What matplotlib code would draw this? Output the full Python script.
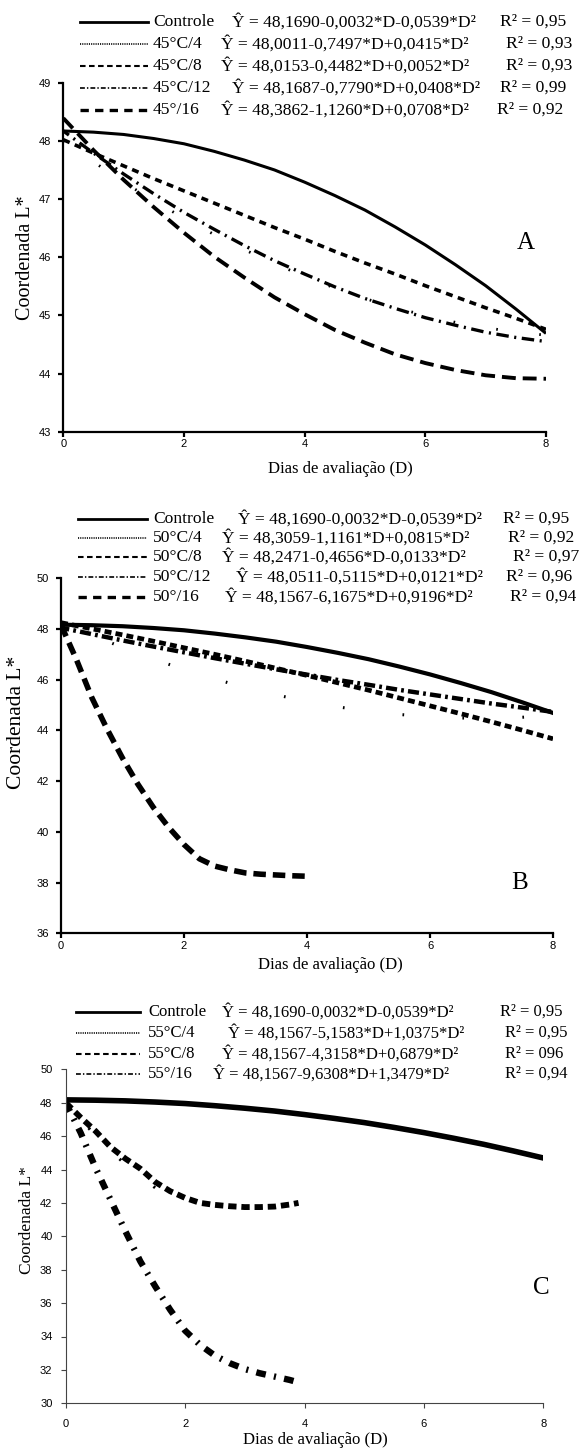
import matplotlib
matplotlib.use("Agg")
import matplotlib.pyplot as plt
from matplotlib.lines import Line2D

plt.rcParams['lines.scale_dashes'] = False

W, H = 581, 1449
DPI = 100

# ---------------- data ----------------
D_full = [0, 0.5, 1, 1.5, 2, 2.5, 3, 3.5, 4, 4.5, 5, 5.5, 6, 6.5, 7, 7.5, 8]
D_B16 = [0, 0.25, 0.5, 0.75, 1, 1.25, 1.5, 1.75, 2, 2.25, 2.5, 2.75, 3, 3.25, 3.5, 3.75, 4]
D_C = [0, 0.25, 0.5, 0.75, 1, 1.25, 1.5, 1.75, 2, 2.25, 2.5, 2.75, 3, 3.25, 3.5, 3.75, 3.9]
D_C4 = [0, 0.5, 1, 1.5, 2]

controle = [48.17, 48.15, 48.11, 48.04, 47.95, 47.82, 47.67, 47.50, 47.29,
            47.06, 46.81, 46.52, 46.21, 45.87, 45.51, 45.11, 44.69]

a_45_4 = [48.00, 47.64, 47.29, 46.97, 46.67, 46.39, 46.13, 45.89, 45.67,
          45.47, 45.29, 45.13, 45.00, 44.88, 44.79, 44.71, 44.66]
a_45_8 = [48.02, 47.79, 47.57, 47.35, 47.14, 46.93, 46.72, 46.51, 46.31,
          46.10, 45.90, 45.71, 45.51, 45.32, 45.13, 44.95, 44.76]
a_45_12 = [48.17, 47.79, 47.43, 47.09, 46.77, 46.48, 46.20, 45.94, 45.71,
           45.49, 45.29, 45.12, 44.96, 44.83, 44.71, 44.62, 44.55]
a_45_16 = [48.39, 47.84, 47.33, 46.86, 46.42, 46.01, 45.65, 45.31, 45.02,
           44.75, 44.53, 44.33, 44.18, 44.06, 43.97, 43.92, 43.91]

b_50_4 = [48.31, 47.77, 47.27, 46.82, 46.40, 46.03, 45.69, 45.40, 45.15,
          44.93, 44.76, 44.63, 44.54, 44.49, 44.49, 44.52, 44.59]
b_50_8 = [48.25, 48.01, 47.77, 47.52, 47.26, 47.00, 46.73, 46.45, 46.17,
          45.88, 45.59, 45.28, 44.97, 44.66, 44.34, 44.01, 43.67]
b_50_12 = [48.05, 47.80, 47.55, 47.31, 47.08, 46.85, 46.63, 46.41, 46.20,
           45.99, 45.80, 45.60, 45.42, 45.24, 45.06, 44.90, 44.73]
b_50_16 = [48.16, 46.80, 45.30, 44.05, 42.91, 41.88, 40.97, 40.18, 39.50,
           38.94, 38.65, 38.50, 38.38, 38.33, 38.30, 38.27, 38.25]

c_55_4 = [48.10, 46.00, 44.30, 42.90, 42.10]
c_55_8 = [48.00, 47.12, 46.30, 45.35, 44.65, 44.05, 43.25, 42.70, 42.30,
          42.00, 41.88, 41.80, 41.75, 41.75, 41.78, 41.90, 42.00]
c_55_16 = [48.00, 46.20, 44.10, 42.20, 40.30, 38.50, 37.00, 35.60, 34.35,
           33.50, 32.85, 32.40, 32.05, 31.80, 31.60, 31.40, 31.25]

x_ticks = [0, 2, 4, 6, 8]
yticks_A = [43, 44, 45, 46, 47, 48, 49]
yticks_B = [36, 38, 40, 42, 44, 46, 48, 50]
yticks_C = [30, 32, 34, 36, 38, 40, 42, 44, 46, 48, 50]

names_A = ['Controle', '45°C/4', '45°C/8', '45°C/12', '45°/16']
eqs_A = ['Ŷ = 48,1690-0,0032*D-0,0539*D²', 'Ŷ = 48,0011-0,7497*D+0,0415*D²',
         'Ŷ = 48,0153-0,4482*D+0,0052*D²', 'Ŷ = 48,1687-0,7790*D+0,0408*D²',
         'Ŷ = 48,3862-1,1260*D+0,0708*D²']
r2_A = ['R² = 0,95', 'R² = 0,93', 'R² = 0,93', 'R² = 0,99', 'R² = 0,92']

names_B = ['Controle', '50°C/4', '50°C/8', '50°C/12', '50°/16']
eqs_B = ['Ŷ = 48,1690-0,0032*D-0,0539*D²', 'Ŷ = 48,3059-1,1161*D+0,0815*D²',
         'Ŷ = 48,2471-0,4656*D-0,0133*D²', 'Ŷ = 48,0511-0,5115*D+0,0121*D²',
         'Ŷ = 48,1567-6,1675*D+0,9196*D²']
r2_B = ['R² = 0,95', 'R² = 0,92', 'R² = 0,97', 'R² = 0,96', 'R² = 0,94']

names_C = ['Controle', '55°C/4', '55°C/8', '55°/16']
eqs_C = ['Ŷ = 48,1690-0,0032*D-0,0539*D²', 'Ŷ = 48,1567-5,1583*D+1,0375*D²',
         'Ŷ = 48,1567-4,3158*D+0,6879*D²', 'Ŷ = 48,1567-9,6308*D+1,3479*D²']
r2_C = ['R² = 0,95', 'R² = 0,95', 'R² = 096', 'R² = 0,94']

# ---------------- helpers ----------------
SERIF = ['Liberation Serif', 'DejaVu Serif']
SANS = ['Liberation Sans', 'DejaVu Sans']


def fx(x):
    return x / W


def fy(y):
    return 1 - y / H


fig = plt.figure(figsize=(W / DPI, H / DPI), dpi=DPI)


def make_ax(left, right, top, bottom, ylim, yticks, spine_w, spine_c, xpad, ypad):
    ax = fig.add_axes([fx(left), fy(bottom), (right - left) / W, (bottom - top) / H])
    ax.set_xlim(0, 8)
    ax.set_ylim(*ylim)
    ax.set_xticks(x_ticks)
    ax.set_yticks(yticks)
    for s in ('top', 'right'):
        ax.spines[s].set_visible(False)
    for s in ('left', 'bottom'):
        ax.spines[s].set_linewidth(spine_w)
        ax.spines[s].set_color(spine_c)
    ax.tick_params(axis='both', direction='out', length=3.5, width=spine_w,
                   color=spine_c, labelsize=8)
    ax.tick_params(axis='x', pad=xpad)
    ax.tick_params(axis='y', pad=ypad)
    for lab in ax.get_xticklabels() + ax.get_yticklabels():
        lab.set_fontfamily(SANS)
    ax.set_facecolor('none')
    return ax


def legend_rows(ys, names, eqs, r2s, x0, x1, xname, xeqs, xr2s, styles, fs):
    for y, nm, eq, r2, xe, xr, st in zip(ys, names, eqs, r2s, xeqs, xr2s, styles):
        fig.add_artist(Line2D([fx(x0), fx(x1)], [fy(y), fy(y)], color='black',
                              transform=fig.transFigure, **st))
        fig.text(fx(xname), fy(y), nm, family=SERIF, fontsize=fs, va='center', ha='left')
        fig.text(fx(xe), fy(y), eq, family=SERIF, fontsize=fs, va='center', ha='left')
        fig.text(fx(xr), fy(y), r2, family=SERIF, fontsize=fs, va='center', ha='left')


leg_styles5 = [dict(lw=2.0, ls='-'),
               dict(lw=1.2, ls=(0, (0.8, 0.8))),
               dict(lw=1.5, ls=(0, (4, 2.5))),
               dict(lw=1.2, ls=(0, (3.5, 1.5, 1, 1.5))),
               dict(lw=2.4, ls=(0, (6, 4.5)))]
leg_styles4 = [leg_styles5[0], leg_styles5[1], leg_styles5[2], leg_styles5[3]]

# ---------------- Panel A ----------------
axA = make_ax(63.3, 546, 82.7, 431.7, (43, 49), yticks_A, 1.6, 'black', 2, 5)
axA.plot(D_full, controle, color='black', lw=2.2, ls='-', solid_capstyle='butt')
axA.plot(D_full, a_45_4, color='black', lw=2.0, ls=(0, (1.2, 30)))
axA.plot(D_full, a_45_8, color='black', lw=2.6, ls=(0, (5, 4)))
axA.plot(D_full, a_45_12, color='black', lw=2.4, ls=(4, (9, 4, 1.5, 4)))
axA.plot(D_full, a_45_16, color='black', lw=2.8, ls=(0, (10, 5)))
axA.text(7.67, 46.25, 'A', family=SERIF, fontsize=18, ha='center', va='center')
fig.text(fx(63.3 + 0.573 * 482.7), fy(469), 'Dias de avaliação (D)', family=SERIF,
         fontsize=12, ha='center', va='center')
fig.text(fx(26), fy(258), 'Coordenada L*', family=SERIF, fontsize=14.5,
         rotation=90, ha='center', va='center')
legend_rows([22, 44, 66, 88, 110], names_A, eqs_A, r2_A, 80, 148, 153,
            [232, 221, 221, 232, 221], [500, 506, 506, 500, 497], leg_styles5, 12.6)

# ---------------- Panel B ----------------
axB = make_ax(61, 553, 578.3, 933.3, (36, 50), yticks_B, 1.6, 'black', 2, 5)
axB.plot(D_full, controle, color='black', lw=3.0, ls='-')
axB.plot(D_full, b_50_4, color='black', lw=2.2, ls=(3, (1.2, 42)))
axB.plot(D_full, b_50_8, color='black', lw=3.4, ls=(0, (5, 3)))
axB.plot(D_full, b_50_12, color='black', lw=3.2, ls=(2, (8, 3, 2, 3)))
axB.plot(D_B16, b_50_16, color='black', lw=4.0, ls=(0, (9, 5)))
axB.text(7.45, 38.0, 'B', family=SERIF, fontsize=18, ha='center', va='center')
fig.text(fx(330), fy(965), 'Dias de avaliação (D)', family=SERIF,
         fontsize=12, ha='center', va='center')
fig.text(fx(17), fy(722), 'Coordenada L*', family=SERIF, fontsize=15.5,
         rotation=90, ha='center', va='center')
legend_rows([519, 538, 557, 577, 597], names_B, eqs_B, r2_B, 78, 147, 153,
            [238, 222, 222, 236, 225], [503, 508, 513, 506, 510], leg_styles5, 12.6)

# ---------------- Panel C ----------------
axC = make_ax(65.7, 543.3, 1069.3, 1403.3, (30, 50), yticks_C, 0.8, '#444444', 8, 6)
axC.plot(D_full, controle, color='black', lw=4.0, ls='-')
axC.plot(D_C4, c_55_4, color='black', lw=2.2, ls=(6, (1.5, 30)))
axC.plot(D_C, c_55_8, color='black', lw=4.2, ls=(0, (6, 3.5)))
axC.plot(D_C, c_55_16, color='black', lw=4.6, ls=(0, (7, 6, 1.5, 6)))
axC.text(7.97, 36.9, 'C', family=SERIF, fontsize=18, ha='center', va='center')
fig.text(fx(315), fy(1440), 'Dias de avaliação (D)', family=SERIF,
         fontsize=12, ha='center', va='center')
fig.text(fx(27), fy(1220), 'Coordenada L*', family=SERIF, fontsize=12.5,
         rotation=90, ha='center', va='center')
legend_rows([1012, 1033, 1054, 1074], names_C, eqs_C, r2_C, 76, 140, 148,
            [222, 228, 222, 213], [500, 505, 505, 505], leg_styles4, 12.0)

fig.savefig('out.png', dpi=DPI, facecolor='white')
